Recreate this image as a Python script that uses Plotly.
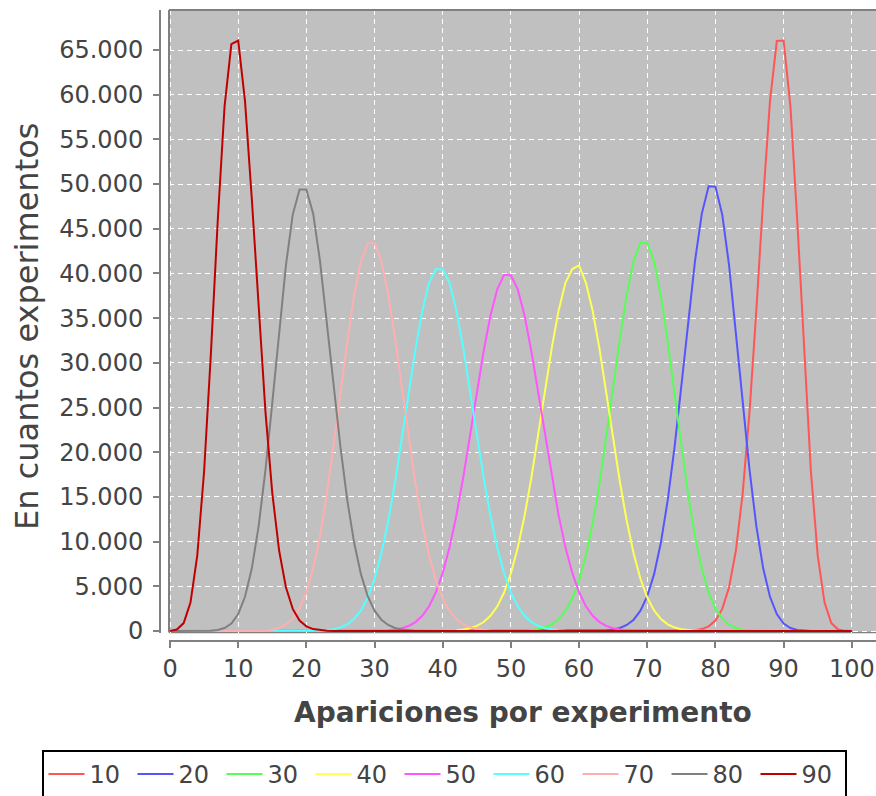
import plotly.graph_objects as go

# Series names (legend labels)
series_names = ["10", "20", "30", "40", "50", "60", "70", "80", "90"]
series_colors = ["#FF5555", "#5555FF", "#55FF55", "#FFFF55", "#FF55FF",
                 "#55FFFF", "#FFAFAF", "#808080", "#C00000"]

# x = 0 .. 100 (apariciones por experimento)
x_vals = list(range(0, 101))

# Non-zero part of each series: first x and the counts
start_10 = 74
y_10 = [3, 10, 30, 82, 215, 520, 1170, 2474, 4883, 9002, 15432, 24511, 35912,
        48297, 59275, 66000, 66050, 58685, 45932, 31114, 17876, 8464, 3174,
        884, 163, 14]

start_20 = 62
y_20 = [15, 35, 78, 168, 341, 672, 1264, 2271, 3892, 6359, 9892, 14634, 20569,
        27422, 34640, 41389, 46694, 49750, 49700, 46586, 40903, 33511, 25532,
        18022, 11734, 7013, 3827, 1890, 842, 334, 116, 35, 9]

start_30 = 50
y_30 = [10, 24, 52, 108, 215, 412, 753, 1330, 2242, 3638, 5660, 8445, 12074,
        16549, 21720, 27287, 32801, 37696, 41390, 43450, 43392, 41354, 37523,
        32385, 26550, 20650, 15219, 10608, 6980, 4332, 2528, 1382, 705, 338,
        151, 61, 24, 8]

start_40 = 39
y_40 = [8, 18, 39, 82, 163, 311, 571, 1003, 1696, 2760, 4308, 6460, 9312,
        12892, 17150, 21913, 26894, 31697, 35868, 38960, 40500, 40900, 38946,
        35805, 31541, 26612, 21494, 16611, 12274, 8665, 5839, 3751, 2298, 1344,
        746, 394, 196, 92, 42, 17, 7]

start_50 = 30
y_50 = [17, 36, 76, 155, 302, 562, 998, 1701, 2771, 4337, 6504, 9363, 12928,
        17140, 21812, 26659, 31298, 35293, 38236, 39850, 39800, 38235, 35294,
        31297, 26662, 21812, 17138, 12930, 9362, 6507, 4336, 2773, 1699, 999,
        562, 302, 156, 77, 36, 16]

start_60 = 20
y_60 = [7, 17, 42, 92, 196, 394, 746, 1344, 2298, 3751, 5839, 8665, 12274,
        16611, 21494, 26612, 31541, 35805, 38946, 40500, 40450, 38960, 35868,
        31697, 26894, 21913, 17150, 12892, 9312, 6460, 4308, 2760, 1696, 1003,
        571, 311, 163, 82, 39, 18, 8]

start_70 = 12
y_70 = [8, 24, 61, 151, 338, 705, 1382, 2528, 4332, 6980, 10608, 15219, 20650,
        26550, 32385, 37523, 41354, 43392, 43390, 41390, 37696, 32801, 27287,
        21720, 16549, 12074, 8445, 5660, 3638, 2242, 1330, 753, 412, 215, 108,
        52, 24, 10]

start_80 = 5
y_80 = [9, 35, 116, 334, 842, 1890, 3827, 7013, 11734, 18022, 25532, 33511,
        40903, 46586, 49400, 49380, 46694, 41389, 34640, 27422, 20569, 14634,
        9892, 6359, 3892, 2271, 1264, 672, 341, 168, 78, 35, 15]

start_90 = 0
y_90 = [14, 163, 884, 3174, 8464, 17876, 31114, 45932, 58685, 65650, 66050,
        59275, 48297, 35912, 24511, 15432, 9002, 4883, 2474, 1170, 520, 215,
        82, 30, 10, 3]

series_starts = [start_10, start_20, start_30, start_40, start_50,
                 start_60, start_70, start_80, start_90]
series_values = [y_10, y_20, y_30, y_40, y_50, y_60, y_70, y_80, y_90]

# Tick labels
x_ticks = [0, 10, 20, 30, 40, 50, 60, 70, 80, 90, 100]
y_ticks = [0, 5000, 10000, 15000, 20000, 25000, 30000, 35000, 40000,
           45000, 50000, 55000, 60000, 65000]

W, H = 876, 796
ML, MR, MT, MB = 40, 0, 10, 155
PW, PH = W - ML - MR, H - MT - MB

def px_x(px):
    return (px - ML) / PW

def px_y(py):
    return (H - MB - py) / PH

fig = go.Figure()
for name, color, st, vals in zip(series_names, series_colors,
                                 series_starts, series_values):
    full = [0] * len(x_vals)
    for i, v in enumerate(vals):
        full[st + i] = v
    fig.add_trace(go.Scatter(
        x=x_vals, y=full, mode="lines", name=name,
        line=dict(color=color, width=2),
    ))

tick_font = dict(family="DejaVu Sans", size=24, color="#444444")

fig.update_layout(
    width=W, height=H,
    margin=dict(l=ML, r=MR, t=MT, b=MB, pad=0, autoexpand=False),
    paper_bgcolor="white",
    plot_bgcolor="#C0C0C0",
    separators=",.",
    showlegend=True,
    legend=dict(
        orientation="h",
        x=px_x(444), xanchor="center",
        y=px_y(750), yanchor="top",
        bgcolor="white",
        bordercolor="black", borderwidth=2,
        font=dict(family="DejaVu Sans", size=24, color="#444444"),
        itemwidth=36,
        entrywidth=38,
        tracegroupgap=0,
    ),
    xaxis=dict(
        domain=[px_x(169), 1],
        range=[-0.15, 103.55],
        anchor="free", position=0,
        tickvals=x_ticks,
        ticks="outside", ticklen=6, tickcolor="#808080", tickwidth=1.5,
        showline=True, linecolor="#808080", linewidth=2,
        showgrid=True, gridcolor="white", gridwidth=1, griddash="5px,4px",
        zeroline=False,
        tickfont=tick_font,
    ),
    yaxis=dict(
        domain=[px_y(632.5), 1],
        range=[-168, 69475],
        anchor="free", position=px_x(160),
        tickvals=y_ticks, tickformat=",d",
        ticks="outside", ticklen=6, tickcolor="#808080", tickwidth=1.5,
        showline=True, linecolor="#808080", linewidth=2,
        showgrid=True, gridcolor="white", gridwidth=1, griddash="5px,4px",
        zeroline=False,
        tickfont=tick_font,
        ticklabelstandoff=5,
    ),
    shapes=[
        dict(type="line", xref="x domain", yref="y domain",
             x0=0, x1=1, y0=1, y1=1,
             line=dict(color="#808080", width=2), layer="above"),
        dict(type="line", xref="x domain", yref="y domain",
             x0=0, x1=0, y0=0, y1=1,
             line=dict(color="#808080", width=2), layer="above"),
        dict(type="line", xref="x domain", yref="y domain",
             x0=0, x1=1, y0=0, y1=0,
             line=dict(color="#808080", width=1.5), layer="below"),
    ],
    annotations=[
        dict(text="En cuantos experimentos", textangle=-90,
             xref="paper", yref="paper", x=px_x(27), y=px_y(327),
             xanchor="center", yanchor="middle", showarrow=False,
             font=dict(family="DejaVu Sans", size=32, color="#444444")),
        dict(text="<b>Apariciones por experimento</b>",
             xref="paper", yref="paper", x=px_x(523), y=px_y(712),
             xanchor="center", yanchor="middle", showarrow=False,
             font=dict(family="DejaVu Sans", size=28, color="#444444")),
    ],
)

fig.write_html("out.html")
